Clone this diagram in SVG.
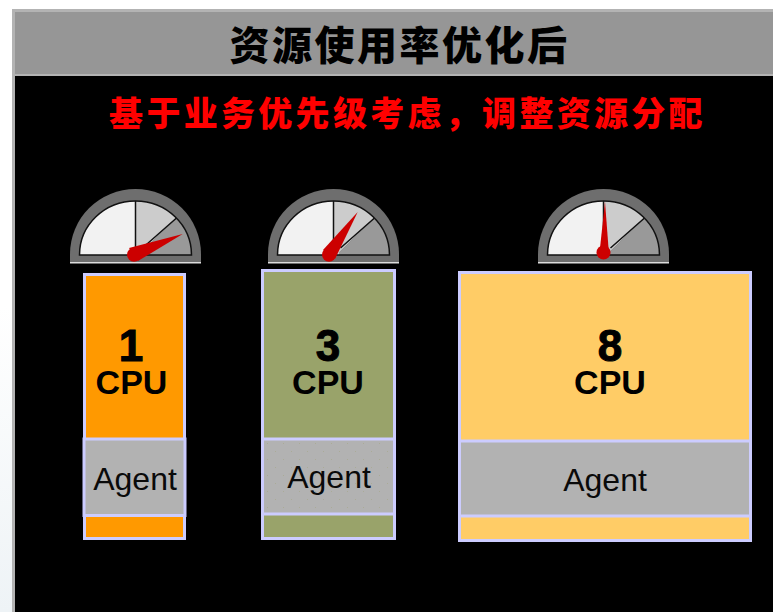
<svg xmlns="http://www.w3.org/2000/svg" width="773" height="612" viewBox="0 0 773 612">
<defs>
<style>
.cjk{font-family:"Noto Sans CJK SC","Noto Sans",sans-serif;font-weight:900;text-anchor:middle}
.lat{font-family:"Liberation Sans",Arial,sans-serif;text-anchor:middle}
.big{font-size:44px;font-weight:bold;fill:#000;stroke:#000;stroke-width:1}
.cpu{font-size:34px;font-weight:bold;fill:#000}
.ag{font-size:32px;fill:#0a0a0a}
.bx{stroke:#ccccff;stroke-width:3}
.ln{stroke:#111;stroke-width:1.500;fill:none}
.nd{fill:#c00}
</style>
<linearGradient id="bg" x1="0" y1="0" x2="0" y2="1">
<stop offset="0.500" stop-color="#ffffff"/>
<stop offset="1" stop-color="#eef3f6"/>
</linearGradient>
<pattern id="dots" width="16" height="16" patternUnits="userSpaceOnUse">
<rect width="16" height="16" fill="#b2b2b2"/>
<rect x="3" y="3" width="1" height="1" fill="#aaab98"/>
<rect x="11" y="11" width="1" height="1" fill="#aaab98"/>
</pattern>
<g id="gauge">
<path d="M-65.500 9V0A65.500 65 0 0 1 65.500 0V9Z" fill="#6e6e6e"/>
<rect x="-65.500" y="8" width="131" height="1.500" fill="#ddd"/>
<path d="M-56 1A56 54 0 0 1 0 -53V1Z" fill="#f2f2f2"/>
<path d="M0 -53A56 54 0 0 1 41 -36L6 -2V1H0Z" fill="#ccc"/>
<path d="M41 -36A56 54 0 0 1 56 1H6V-2Z" fill="#999"/>
<path d="M-56 1A56 54 0 0 1 56 1Z" class="ln"/>
<path d="M0 -53V1M7 -6L41 -36" class="ln"/>
</g>
</defs>
<rect width="773" height="612" fill="url(#bg)"/>
<rect x="12" y="9" width="761" height="603" fill="#b3b3b3"/>
<rect x="15" y="12" width="758" height="62" fill="#969696"/>
<rect x="15" y="76" width="758" height="536" fill="#000"/>
<text class="cjk" x="399.500" y="60" font-size="40" letter-spacing="2.500" fill="#000">资源使用率优化后</text>
<text class="cjk" x="407.500" y="126" font-size="34" letter-spacing="3.300" fill="#f00">基于业务优先级考虑&#xFF0C;调整资源分配</text>
<g id="node-1">
<use href="#gauge" transform="translate(135.500,254)"/>
<path class="nd" d="M129 248L182.700 234L138 261Z"/>
<circle class="nd" cx="134" cy="254.700" r="7"/>
<rect class="bx" x="84.500" y="274.500" width="100" height="264" fill="#f90"/>
<rect class="bx" x="84" y="439" width="101" height="76.500" fill="#b2b2b2"/>
<text class="lat big" x="131" y="361">1</text>
<text class="lat cpu" x="131.500" y="394">CPU</text>
<text class="lat ag" x="135" y="490">Agent</text>
</g>
<g id="node-2">
<use href="#gauge" transform="translate(333.500,254)"/>
<path class="nd" d="M323 250L357.700 212L335 259Z"/>
<circle class="nd" cx="329" cy="254.700" r="7"/>
<rect class="bx" x="262.500" y="270.500" width="132" height="268" fill="#99a36a"/>
<rect class="bx" x="262.500" y="439" width="132" height="75" fill="url(#dots)"/>
<text class="lat big" x="328" y="361">3</text>
<text class="lat cpu" x="328" y="394">CPU</text>
<text class="lat ag" x="329" y="488">Agent</text>
</g>
<g id="node-3">
<use href="#gauge" transform="translate(603.500,254)"/>
<path class="nd" d="M600 248L605 201.700L608.500 248Z"/>
<circle class="nd" cx="603.500" cy="252.500" r="7"/>
<rect class="bx" x="459.500" y="272.500" width="291" height="268" fill="#ffcc66"/>
<rect class="bx" x="459.500" y="441" width="291" height="75" fill="#b2b2b2"/>
<text class="lat big" x="610" y="361">8</text>
<text class="lat cpu" x="610" y="394">CPU</text>
<text class="lat ag" x="605" y="491">Agent</text>
</g>
</svg>
